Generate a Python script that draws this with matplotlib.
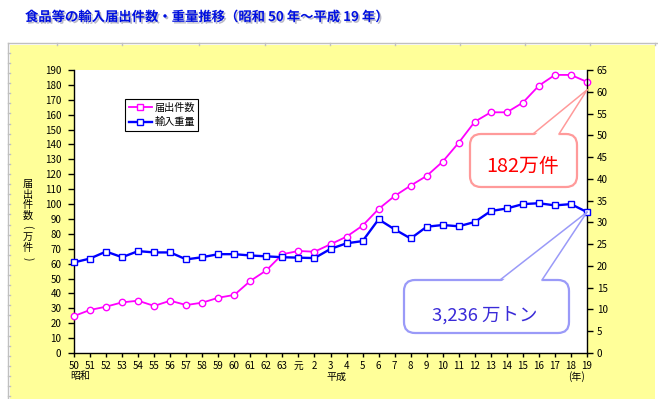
import matplotlib
matplotlib.use('Agg')
import matplotlib.pyplot as plt
from matplotlib.patches import Rectangle, FancyBboxPatch, Polygon
from matplotlib.lines import Line2D
from matplotlib.transforms import IdentityTransform, blended_transform_factory
import matplotlib.patheffects as pe

plt.rcParams['font.family'] = ['Noto Sans CJK JP', 'DejaVu Sans']

# ---------------- data ----------------
year_labels = ['50', '51', '52', '53', '54', '55', '56', '57', '58', '59', '60', '61', '62', '63',
               '元', '2', '3', '4', '5', '6', '7', '8', '9', '10', '11', '12', '13', '14', '15',
               '16', '17', '18', '19']
filings = [24.8, 28.9, 31.1, 34.0, 35.1, 31.6, 35.1, 32.2, 33.8, 37.1, 39.0, 48.4, 55.5, 66.3,
           68.5, 68.0, 73.0, 78.1, 85.5, 96.7, 105.4, 112.4, 118.9, 128.5, 141.2, 155.3, 161.6,
           161.6, 168.1, 179.5, 186.7, 186.7, 182.0]          # 万件 (left axis)
weight = [20.8, 21.7, 23.3, 22.0, 23.4, 23.1, 23.1, 21.5, 22.0, 22.7, 22.7, 22.4, 22.2, 22.0,
          21.9, 21.8, 23.9, 25.2, 25.7, 30.7, 28.4, 26.3, 29.0, 29.4, 29.1, 30.1, 32.6, 33.2,
          34.2, 34.4, 33.9, 34.2, 32.36]                      # 百万トン (right axis)
series_names = ['届出件数', '輸入重量']
title = '食品等の輸入届出件数・重量推移（昭和 50 年～平成 19 年）'
ylabel_chars = ['届', '出', '件', '数', '(', '万', '件', ')']
callout_filings = '182万件'
callout_weight = '3,236 万トン'

# ---------------- figure ----------------
W, H = 658, 399
fig = plt.figure(figsize=(W / 100, H / 100), dpi=100, facecolor='white')
ID = IdentityTransform()

def d(x, y):
    """image pixel (from top-left) -> display coords"""
    return (x, H - y)

# spreadsheet-like background
grey = '#C0C0C0'
fig.add_artist(Rectangle(d(10, 399), 645, 399 - 45, transform=ID, fc='#FFFF99', ec='none', zorder=-5))
fig.add_artist(Line2D([8, 8], [H - 42.7, 0], transform=ID, color=grey, lw=1.0, zorder=-4))
fig.add_artist(Line2D([8, 658], [H - 42.7, H - 42.7], transform=ID, color=grey, lw=1.0, zorder=-4))
for cx in [57, 122, 199, 265, 330, 395, 460, 525, 590, 655]:
    fig.add_artist(Line2D([cx, cx], [H - 42.7, H - 45], transform=ID, color=grey, lw=1.0, zorder=-4))
for k in range(1, 36):
    yy = H - (42.7 + 10.1 * k)
    fig.add_artist(Line2D([8, 10], [yy, yy], transform=ID, color=grey, lw=1.0, zorder=-4))

# title with shadow
fig.text(25 / W, 1 - 17 / H, title, ha='left', va='center', fontsize=9.6, fontweight='bold',
         color='#0010E0',
         path_effects=[pe.SimplePatchShadow(offset=(1.2, -1.2), shadow_rgbFace='#9A9AB0', alpha=0.7),
                       pe.Normal()])

# axes
ax1 = fig.add_axes([74 / W, (H - 353) / H, (587 - 74) / W, (353 - 70) / H])
ax1.set_facecolor('white')
x = list(range(len(year_labels)))
pink = '#FF00FF'
blue = '#0000FF'
ax1.plot(x, filings, color=pink, lw=1.3, marker='o', ms=4.6, mfc='white', mec=pink, mew=1.0,
         clip_on=False, zorder=3)
ax2 = ax1.twinx()
ax2.plot(x, weight, color=blue, lw=1.7, marker='s', ms=4.4, mfc='white', mec=blue, mew=1.0,
         clip_on=False, zorder=3)

ax1.set_xlim(0, len(x) - 1)
ax1.set_ylim(0, 190)
ax2.set_ylim(0, 65)
ax1.set_xticks(x)
ax1.set_xticklabels(year_labels)
ax1.set_yticks(range(0, 191, 10))
ax2.set_yticks(range(0, 66, 5))

for ax in (ax1, ax2):
    ax.spines['top'].set_visible(False)
    for s in ('left', 'right', 'bottom'):
        ax.spines[s].set_color('black')
        ax.spines[s].set_linewidth(1.0)
ax1.spines['right'].set_visible(False)
ax2.spines['left'].set_visible(False)
ax2.spines['bottom'].set_visible(False)

ax1.tick_params(axis='y', direction='out', length=4, width=1, pad=5, labelsize=7)
ax1.tick_params(axis='x', direction='out', length=3, width=1, pad=3, labelsize=7)
ax2.tick_params(axis='y', direction='out', length=4, width=1, pad=3, labelsize=7)

# era labels under the x axis
bt = blended_transform_factory(ax1.transData, ax1.transAxes)
ax1.text(0.37, -0.083, '昭和', transform=bt, ha='center', va='center', fontsize=7.2)
ax1.text(16.4, -0.083, '平成', transform=bt, ha='center', va='center', fontsize=7.2)
ax1.text(31.33, -0.083, '(年)', transform=bt, ha='center', va='center', fontsize=7.2)

# vertical y label, one glyph per row (parentheses turned for vertical writing)
for i, ch in enumerate(ylabel_chars):
    rot = -90 if ch in '()' else 0
    fig.text(28 / W, 1 - (184 + 10.6 * i) / H, ch, ha='center', va='center', fontsize=7.3,
             rotation=rot)

# legend
handles = [Line2D([], [], color=pink, lw=1.3, marker='s', ms=4, mfc='white', mec=pink),
           Line2D([], [], color=blue, lw=1.7, marker='s', ms=4, mfc='white', mec=blue)]
leg = ax2.legend(handles, series_names, loc='upper left', bbox_to_anchor=(125 / W, 1 - 99 / H),
                 bbox_transform=fig.transFigure, frameon=True, fancybox=False, edgecolor='black',
                 framealpha=1, fontsize=7.3, handlelength=2.3, handletextpad=0.25,
                 borderpad=0.35, labelspacing=0.45, borderaxespad=0)
leg.get_frame().set_linewidth(0.8)


def callout(box, base, apex, ec, text, tc, fs, tpos):
    l, t, r, b = box
    fig.add_artist(FancyBboxPatch(d(l, b), r - l, b - t,
                                  boxstyle='round,pad=0,rounding_size=11',
                                  transform=ID, fc='white', ec=ec, lw=1.6, zorder=5))
    x1, x2 = base
    fig.add_artist(Polygon([(x1 + 0.8, H - t - 2), (x2 - 0.8, H - t - 2), apex], closed=True,
                           transform=ID, fc='white', ec='none', zorder=6))
    for xb in (x1, x2):
        fig.add_artist(Line2D([xb, apex[0]], [H - t, apex[1]], transform=ID, color=ec,
                              lw=1.1, zorder=7))
    fig.text(tpos[0] / W, 1 - tpos[1] / H, text, ha='center', va='center', fontsize=fs,
             color=tc, zorder=8)


n = len(x)
apex_f = ax1.transData.transform((n - 1, filings[-1]))
apex_f = (apex_f[0], apex_f[1] - 8)
apex_w = tuple(ax2.transData.transform((n - 1, weight[-1])))

callout((470, 134, 577, 187), (533, 559), apex_f, '#FF9A9A', callout_filings, '#FF0000', 14.3,
        (523, 167))
callout((404, 280, 569, 333), (500, 542), apex_w, '#9A9AF8', callout_weight, '#3A2BD8', 13.3,
        (485, 315))

fig.savefig('out.png', dpi=100, facecolor='white')
